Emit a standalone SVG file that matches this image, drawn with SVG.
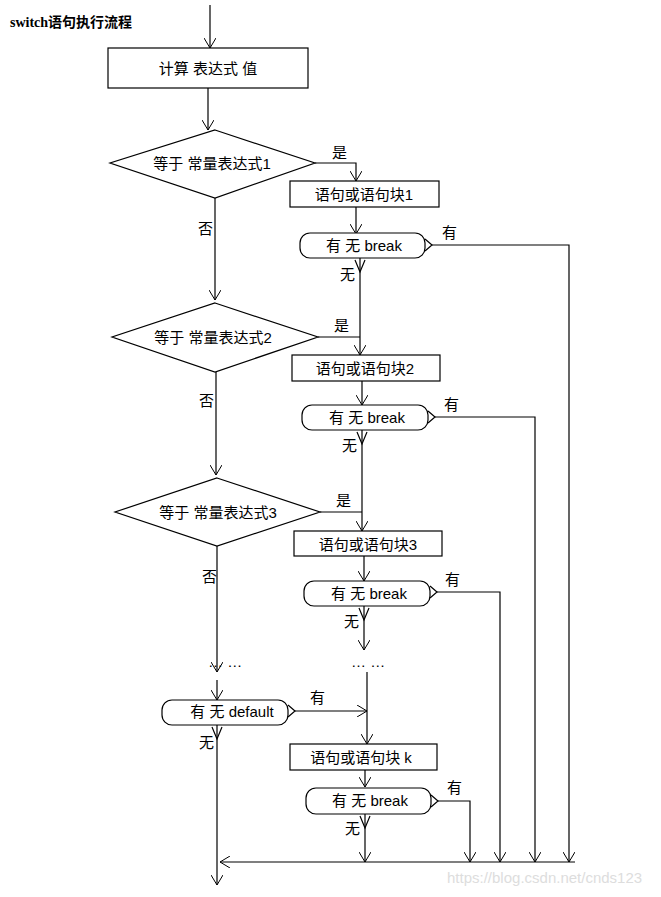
<svg xmlns="http://www.w3.org/2000/svg" width="661" height="897" viewBox="0 0 661 897">
<defs>
<marker id="a" markerWidth="12" markerHeight="12" refX="10" refY="6" orient="auto" markerUnits="userSpaceOnUse"><path d="M0,0 L10,6 L0,12" fill="none" stroke="#000" stroke-width="1"/></marker>
</defs>
<style>
.s{fill:#fff;stroke:#000;stroke-width:1.2}
.l{fill:none;stroke:#000;stroke-width:1.2}
.t{font-family:"Liberation Sans","Noto Sans CJK SC",sans-serif;font-size:15px;fill:#000}
.c{text-anchor:middle}
</style>
<rect width="661" height="897" fill="#fff"/>
<text x="10" y="27" style="font-family:'Liberation Serif','Noto Sans CJK SC',serif;font-size:14px;font-weight:bold">switch语句执行流程</text>
<g id="connectors" class="l">
<path d="M210,5V48" marker-end="url(#a)"/>
<path d="M208,88V130" marker-end="url(#a)"/>
<path d="M215,198V300" marker-end="url(#a)"/>
<path d="M216,372V475" marker-end="url(#a)"/>
<path d="M217,546V672" marker-end="url(#a)"/>
<path d="M217,680V700" marker-end="url(#a)"/>
<path d="M217,725V885" marker-end="url(#a)"/>
<path d="M315,163H356V181" marker-end="url(#a)"/>
<path d="M356,207V234" marker-end="url(#a)"/>
<path d="M360,258V355" marker-end="url(#a)"/>
<path d="M318,337H360"/>
<path d="M362,381V405" marker-end="url(#a)"/>
<path d="M362,430V531" marker-end="url(#a)"/>
<path d="M320,512H362"/>
<path d="M364,556V581" marker-end="url(#a)"/>
<path d="M364,606V650" marker-end="url(#a)"/>
<path d="M367,672V744" marker-end="url(#a)"/>
<path d="M295,711H367" marker-end="url(#a)"/>
<path d="M365,770V787" marker-end="url(#a)"/>
<path d="M365,814V862" marker-end="url(#a)"/>
<path d="M432,245H569V862" marker-end="url(#a)"/>
<path d="M435,417H535V862" marker-end="url(#a)"/>
<path d="M437,592H500V862" marker-end="url(#a)"/>
<path d="M438,801H470V862" marker-end="url(#a)"/>
<path d="M575,862H220" marker-end="url(#a)"/>
</g>
<g id="n0"><rect class="s" x="108" y="48" width="200" height="40"/><text class="t c" x="208" y="74">计算 表达式 值</text></g>
<g id="d1"><polygon class="s" points="215,130 315,163 215,198 110,163"/><text class="t c" x="212" y="169">等于 常量表达式1</text></g>
<g id="d2"><polygon class="s" points="215,303 318,337 215,372 112,337"/><text class="t c" x="213" y="343">等于 常量表达式2</text></g>
<g id="d3"><polygon class="s" points="217,478 320,512 217,546 115,512"/><text class="t c" x="218" y="518">等于 常量表达式3</text></g>
<g id="b1"><rect class="s" x="290" y="181" width="149" height="26"/><text class="t c" x="364" y="200">语句或语句块1</text></g>
<g id="b2"><rect class="s" x="292" y="355" width="148" height="26"/><text class="t c" x="365" y="374">语句或语句块2</text></g>
<g id="b3"><rect class="s" x="294" y="531" width="148" height="25"/><text class="t c" x="368" y="550">语句或语句块3</text></g>
<g id="bk"><rect class="s" x="290" y="744" width="147" height="26"/><text class="t c" x="361" y="763">语句或语句块 k</text></g>
<g id="r1"><rect class="s" x="300" y="233" width="125" height="25" rx="10"/><path class="l" d="M425,239L432,245L425,251M355,260L360,272L365,260"/><text class="t c" x="364" y="251">有 无 break</text></g>
<g id="r2"><rect class="s" x="302" y="405" width="126" height="25" rx="10"/><path class="l" d="M428,411L435,417L428,423M357,432L362,444L367,432"/><text class="t c" x="367" y="423">有 无 break</text></g>
<g id="r3"><rect class="s" x="304" y="581" width="126" height="25" rx="10"/><path class="l" d="M430,586L437,592L430,598M359,608L364,620L369,608"/><text class="t c" x="369" y="599">有 无 break</text></g>
<g id="rk"><rect class="s" x="306" y="788" width="125" height="26" rx="10"/><path class="l" d="M431,795L438,801L431,807M360,816L365,828L370,816"/><text class="t c" x="370" y="806">有 无 break</text></g>
<g id="rd"><rect class="s" x="162" y="700" width="126" height="25" rx="10"/><path class="l" d="M288,705L295,711L288,717M212,727L217,739L222,727"/><text class="t c" x="232" y="717">有  无   default</text></g>
<g id="labels" class="t">
<text x="332" y="158">是</text><text x="334" y="331">是</text><text x="336" y="506">是</text>
<text x="198" y="234">否</text><text x="199" y="406">否</text><text x="202" y="582">否</text>
<text x="442" y="238">有</text><text x="444" y="410">有</text><text x="445" y="585">有</text><text x="310" y="703">有</text><text x="447" y="793">有</text>
<text x="340" y="280">无</text><text x="342" y="451">无</text><text x="344" y="627">无</text><text x="199" y="748">无</text><text x="345" y="834">无</text>
<text x="208" y="667">… …</text><text x="351" y="667">… …</text>
</g>
<text x="447" y="883" style="font-family:'Liberation Sans',sans-serif;font-size:15px;fill:#ddd">https://blog.csdn.net/cnds123</text>
</svg>
